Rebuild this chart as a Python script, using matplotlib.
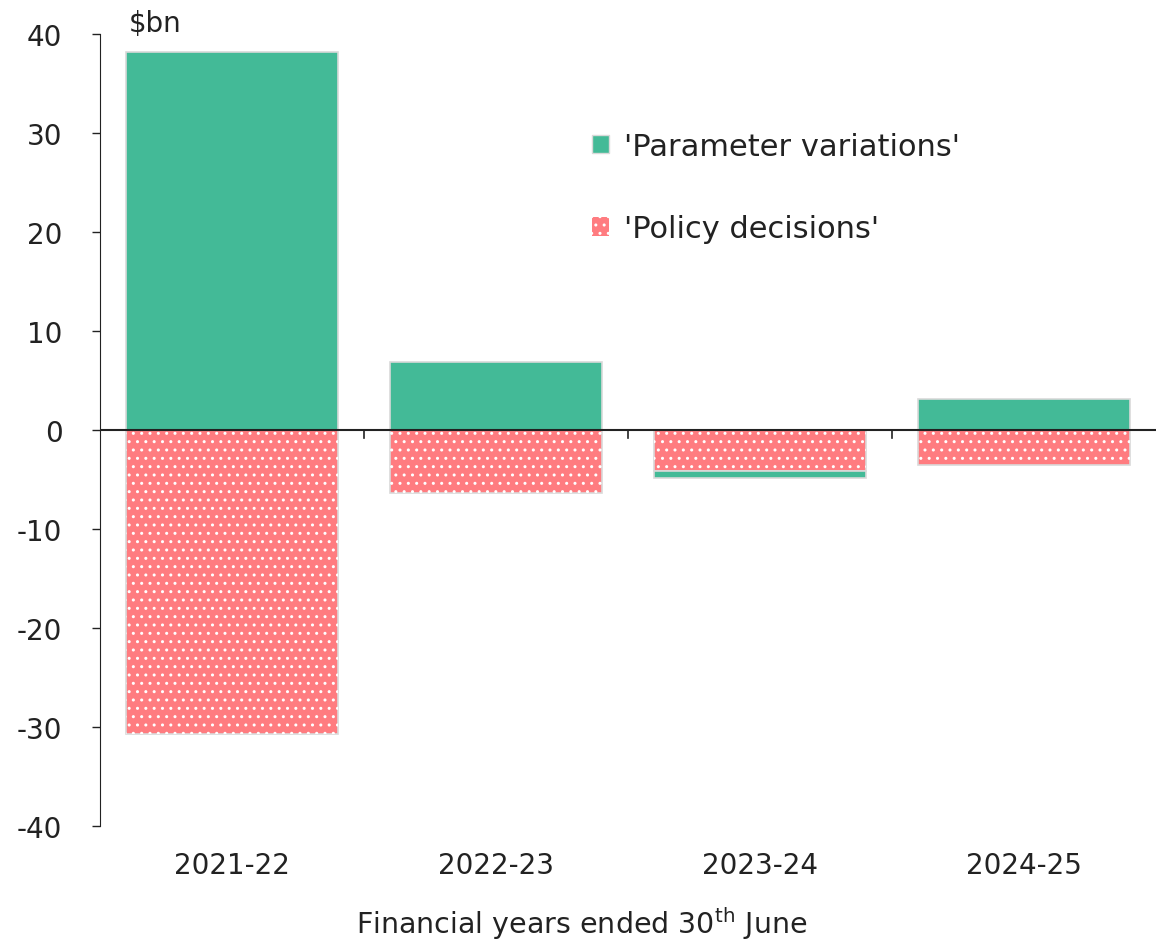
import matplotlib.pyplot as plt
import numpy as np
from matplotlib.patches import Patch

# Data
years = ["2021-22", "2022-23", "2023-24", "2024-25"]
parameter_variations = [38.2, 6.9, -0.8, 3.1]
policy_decisions = [-30.7, -6.4, -4.1, -3.5]

green = "#43BA97"
pink = "#FF7C80"

plt.rcParams['font.family'] = ['DejaVu Sans']
plt.rcParams['axes.unicode_minus'] = False

fig = plt.figure(figsize=(11.56, 9.45), dpi=100)
ax = fig.add_axes([0.0865, 0.125, 0.9135, 0.838])

x = np.arange(len(years))
width = 0.8

# policy decisions (negative, start at zero)
ax.bar(x, policy_decisions, width, color=pink, edgecolor="#d9d9d9", linewidth=1.2, zorder=2)
ax.bar(x, policy_decisions, width, color="none", edgecolor="white", hatch="..", linewidth=0, zorder=3)

# parameter variations: positives from zero, negatives stacked under policy
pv_bottom = [0 if v >= 0 else p for v, p in zip(parameter_variations, policy_decisions)]
ax.bar(x, parameter_variations, width, bottom=pv_bottom, color=green,
       edgecolor="#d9d9d9", linewidth=1.2, zorder=2)

ax.set_xlim(-0.5, 3.5)
ax.set_ylim(-40, 40)
ax.set_yticks(range(-40, 41, 10))
ax.tick_params(axis="y", labelsize=20, length=6, width=1, pad=21, colors="#222222")

# zero axis with ticks between categories
ax.axhline(0, color="#222222", linewidth=1.5, zorder=4)
for b in [0.5, 1.5, 2.5]:
    ax.plot([b, b], [0, -0.8], color="#222222", linewidth=1.2, zorder=4)
ax.set_xticks(x)
ax.set_xticklabels(years, fontsize=20, color="#222222")
ax.tick_params(axis="x", length=0, pad=18)

for s in ["top", "right", "bottom"]:
    ax.spines[s].set_visible(False)
ax.spines["left"].set_color("#222222")

ax.text(0.027, 0.996, "$bn", transform=ax.transAxes, fontsize=20,
        color="#222222", ha="left", va="bottom")

fig.text(0.503, 0.003, "Financial years ended 30$^{\\mathrm{th}}$ June", fontsize=20.5,
         color="#222222", ha="center", va="bottom")

# legend
h1 = Patch(facecolor=green, edgecolor="#d9d9d9")
h2 = Patch(facecolor=pink, edgecolor="white", hatch="..", linewidth=0)
leg = ax.legend([h1, h2], ["'Parameter variations'", "'Policy decisions'"],
                loc="upper left", bbox_to_anchor=(0.44, 0.911), frameon=False,
                fontsize=22, labelspacing=1.75, handlelength=0.55, handleheight=0.55,
                handletextpad=0.5)
for t in leg.get_texts():
    t.set_color("#222222")

fig.savefig("out.png", dpi=100)
